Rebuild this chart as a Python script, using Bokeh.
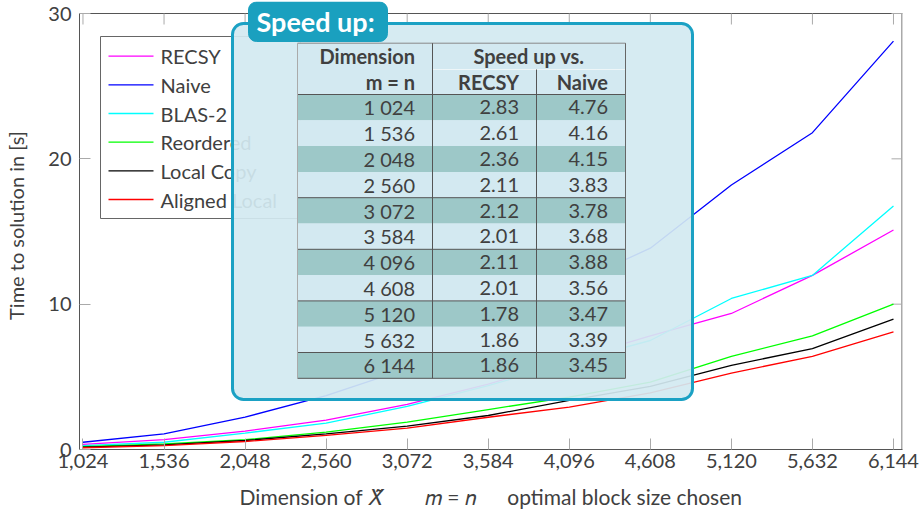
from bokeh.plotting import figure
from bokeh.models import (FixedTicker, NumeralTickFormatter, BoxAnnotation,
                          Label, ColumnDataSource, Range1d)
from bokeh.embed import file_html
from bokeh.resources import INLINE

# ---------------- data ----------------
dims = [1024, 1536, 2048, 2560, 3072, 3584, 4096, 4608, 5120, 5632, 6144]
recsy = [0.35, 0.68, 1.27, 2.02, 3.10, 4.50, 6.16, 7.82, 9.36, 11.98, 15.10]
naive = [0.50, 1.08, 2.23, 3.70, 5.56, 8.20, 11.30, 13.85, 18.20, 21.80, 28.10]
blas2 = [0.26, 0.50, 1.13, 1.82, 2.97, 4.40, 6.00, 7.50, 10.39, 11.98, 16.76]
reordered = [0.20, 0.39, 0.67, 1.20, 1.88, 2.75, 3.60, 4.64, 6.41, 7.82, 10.00]
local_copy = [0.16, 0.32, 0.62, 1.08, 1.61, 2.34, 3.38, 4.35, 5.79, 6.94, 8.97]
aligned_local = [0.12, 0.27, 0.55, 0.97, 1.47, 2.22, 2.92, 3.90, 5.26, 6.41, 8.09]

series_names = ["RECSY", "Naive", "BLAS-2", "Reordered", "Local Copy", "Aligned Local"]
series_values = [recsy, naive, blas2, reordered, local_copy, aligned_local]
series_colors = ["#ff00ff", "#0000ff", "#00ffff", "#00ff00", "#000000", "#ff0000"]

y_ticks = [0, 10, 20, 30]
y_max = 30

table_dims = ["1 024", "1 536", "2 048", "2 560", "3 072", "3 584",
              "4 096", "4 608", "5 120", "5 632", "6 144"]
speedup_recsy = [2.83, 2.61, 2.36, 2.11, 2.12, 2.01, 2.11, 2.01, 1.78, 1.86, 1.86]
speedup_naive = [4.76, 4.16, 4.15, 3.83, 3.78, 3.68, 3.88, 3.56, 3.47, 3.39, 3.45]

# ---------------- layout ----------------
W, H = 921, 516
FL, FR, FT, FB = 79, 19, 1, 67
AX_TOP = 13          # pixel row of the drawn top frame line (y = 30)
X0, X1 = 1002, 6201
Y0 = 0
Y1 = y_max * (H - FB - FT) / (H - FB - AX_TOP)
FONT = "Lato"
TXT = "#404040"
TICK = "#aaaaaa"
AXIS = "#555555"
tick_len_px = 11


def fx(px):
    return X0 + (px - FL) * (X1 - X0) / (W - FL - FR)


def fy(py):
    return Y1 - (py - FT) * (Y1 - Y0) / (H - FT - FB)


p = figure(width=W, height=H, x_range=Range1d(X0, X1), y_range=Range1d(Y0, Y1),
           output_backend="svg", toolbar_location=None,
           min_border_left=FL, min_border_right=FR, min_border_top=FT, min_border_bottom=FB)
p.grid.visible = False
p.outline_line_color = None
p.background_fill_color = "white"
p.border_fill_color = "white"

# top and right frame lines with inward ticks (mirrors of the bottom / left axes)
xr = fx(W - FR - 0.5)
fr = dict(x0=[X0, xr], x1=[X1, xr], y0=[y_max, 0], y1=[y_max, y_max], c=[AXIS, AXIS])
for d in dims:
    fr["x0"].append(d); fr["x1"].append(d)
    fr["y0"].append(y_max); fr["y1"].append(fy(AX_TOP + tick_len_px)); fr["c"].append(TICK)
for t in y_ticks:
    fr["x0"].append(xr); fr["x1"].append(fx(W - FR - tick_len_px))
    fr["y0"].append(t); fr["y1"].append(t); fr["c"].append(TICK)
p.segment(x0="x0", y0="y0", x1="x1", y1="y1", line_color="c", line_width=1,
          source=ColumnDataSource(fr))

for vals, col in zip(series_values, series_colors):
    p.line(dims, vals, line_color=col, line_width=1.3)

# axes
p.xaxis.ticker = FixedTicker(ticks=dims)
p.xaxis.formatter = NumeralTickFormatter(format="0,0")
p.yaxis.ticker = FixedTicker(ticks=y_ticks)
p.yaxis.bounds = (0, y_max)
for ax in (p.xaxis[0], p.yaxis[0]):
    ax.major_tick_in = tick_len_px
    ax.major_tick_out = 0
    ax.minor_tick_line_color = None
    ax.major_tick_line_color = TICK
    ax.axis_line_color = AXIS
    ax.major_label_text_font = FONT
    ax.major_label_text_font_size = "20px"
    ax.major_label_text_color = TXT
    ax.axis_label_text_font = FONT
    ax.axis_label_text_font_size = "20px"
    ax.axis_label_text_font_style = "normal"
    ax.axis_label_text_color = TXT
p.xaxis.major_label_standoff = 4
p.yaxis.major_label_standoff = 8
p.yaxis.axis_label = "Time to solution in [s]"
p.yaxis.axis_label_standoff = 17
p.xaxis.axis_label = ("Dimension of \U0001D44B\u0303\u2003\u2003\u00a0\u00a0\U0001D45A = \U0001D45B"
                      "\u2003\u2003optimal block size chosen")
p.xaxis.axis_label_text_font_size = "21px"
p.xaxis.axis_label_standoff = 13

# legend (drawn at glyph level so the speed-up box covers its right part)
LG_L, LG_T, LG_R, LG_B = 100, 36, 300, 218
lg_row0, lg_pitch = 55.7, 28.66
p.quad(left=[fx(LG_L)], right=[fx(LG_R)], top=[fy(LG_T)], bottom=[fy(LG_B)],
       fill_color="white", line_color="#666666", line_width=1)
lg_y = [fy(lg_row0 + i * lg_pitch) for i in range(len(series_names))]
p.segment(x0=[fx(108)] * len(series_names), x1=[fx(153)] * len(series_names),
          y0=lg_y, y1=lg_y, line_color=series_colors, line_width=1.3)
for name, yy in zip(series_names, lg_y):
    p.add_layout(Label(x=fx(160), y=yy, text=name, text_align="left", text_baseline="middle",
                       text_font=FONT, text_font_size="20px", text_color=TXT, level="glyph"))

# ---------------- speed-up box ----------------
BOX_FILL = "#d3e9f1"
BOX_EDGE = "#1ba1c4"
box = BoxAnnotation(left=fx(232), right=fx(692), top=fy(23), bottom=fy(399),
                    fill_color=BOX_FILL, fill_alpha=0.92, line_color=BOX_EDGE, line_alpha=1.0,
                    line_width=3, border_radius=11, level="annotation")
tab = BoxAnnotation(left=fx(248), right=fx(387), top=fy(1.5), bottom=fy(41),
                    fill_color="#1aa0bf", fill_alpha=1.0, line_color="#1aa0bf", line_alpha=1.0,
                    line_width=1, border_radius=8, level="annotation")
p.add_layout(box)
p.add_layout(tab)
p.add_layout(Label(x=fx(256), y=fy(21), text="Speed up:", text_align="left",
                   text_baseline="middle", text_font=FONT, text_font_size="27px",
                   text_font_style="bold", text_color="white", level="annotation"))

# table
col_edges = [297, 432, 536, 625]
row_top, row_h = 94.0, 25.8
tab_top = 42.7
n = len(table_dims)
DARK = "#9dc8c8"

cells = dict(left=[], right=[], top=[], bottom=[], color=[])
cells["left"].append(fx(col_edges[0])); cells["right"].append(fx(col_edges[-1]))
cells["top"].append(fy(tab_top)); cells["bottom"].append(fy(row_top)); cells["color"].append(BOX_FILL)
for i in range(n):
    cells["left"].append(fx(col_edges[0])); cells["right"].append(fx(col_edges[-1]))
    cells["top"].append(fy(row_top + i * row_h)); cells["bottom"].append(fy(row_top + (i + 1) * row_h))
    cells["color"].append(DARK if i % 2 == 0 else BOX_FILL)
p.quad(left="left", right="right", top="top", bottom="bottom", fill_color="color",
       line_color=None, source=ColumnDataSource(cells), level="overlay")

segs = dict(x0=[], y0=[], x1=[], y1=[], c=[])


def seg(a, b, c, d, col):
    segs["x0"].append(fx(a)); segs["y0"].append(fy(b))
    segs["x1"].append(fx(c)); segs["y1"].append(fy(d))
    segs["c"].append(col)


bottom_px = row_top + n * row_h
seg(col_edges[0], tab_top, col_edges[-1], tab_top, "#888888")
seg(col_edges[1], 69, col_edges[-1], 69, "#eef6f8")
for k in [0, 4, 6, 8, 10, 11]:
    seg(col_edges[0], row_top + k * row_h, col_edges[-1], row_top + k * row_h, "#555555")
seg(col_edges[0], tab_top, col_edges[0], bottom_px, "#aaaaaa")
seg(col_edges[1], tab_top, col_edges[1], bottom_px, "#555555")
seg(col_edges[2], 69, col_edges[2], bottom_px, "#555555")
seg(col_edges[3], tab_top, col_edges[3], bottom_px, "#666666")
p.segment(x0="x0", y0="y0", x1="x1", y1="y1", line_color="c", line_width=1,
          source=ColumnDataSource(segs), level="overlay")

pad = 17.5


def put(px, py, t, al="right", st="normal"):
    p.add_layout(Label(x=fx(px), y=fy(py), text=t, text_align=al, text_baseline="middle",
                       text_font=FONT, text_font_size="20px", text_font_style=st,
                       text_color=TXT, level="overlay"))


put(col_edges[1] - pad, 55, "Dimension", st="bold")
put(col_edges[1] - pad, 81, "m = n", st="bold")
put((col_edges[1] + col_edges[3]) / 2, 55, "Speed up vs.", al="center", st="bold")
put(col_edges[2] - pad, 81, "RECSY", st="bold")
put(col_edges[3] - pad, 81, "Naive", st="bold")
for i in range(n):
    cy = row_top + (i + 0.5) * row_h
    put(col_edges[1] - pad, cy, table_dims[i])
    put(col_edges[2] - pad, cy, f"{speedup_recsy[i]:.2f}")
    put(col_edges[3] - pad, cy, f"{speedup_naive[i]:.2f}")

open("out.html", "w").write(file_html(p, INLINE))
